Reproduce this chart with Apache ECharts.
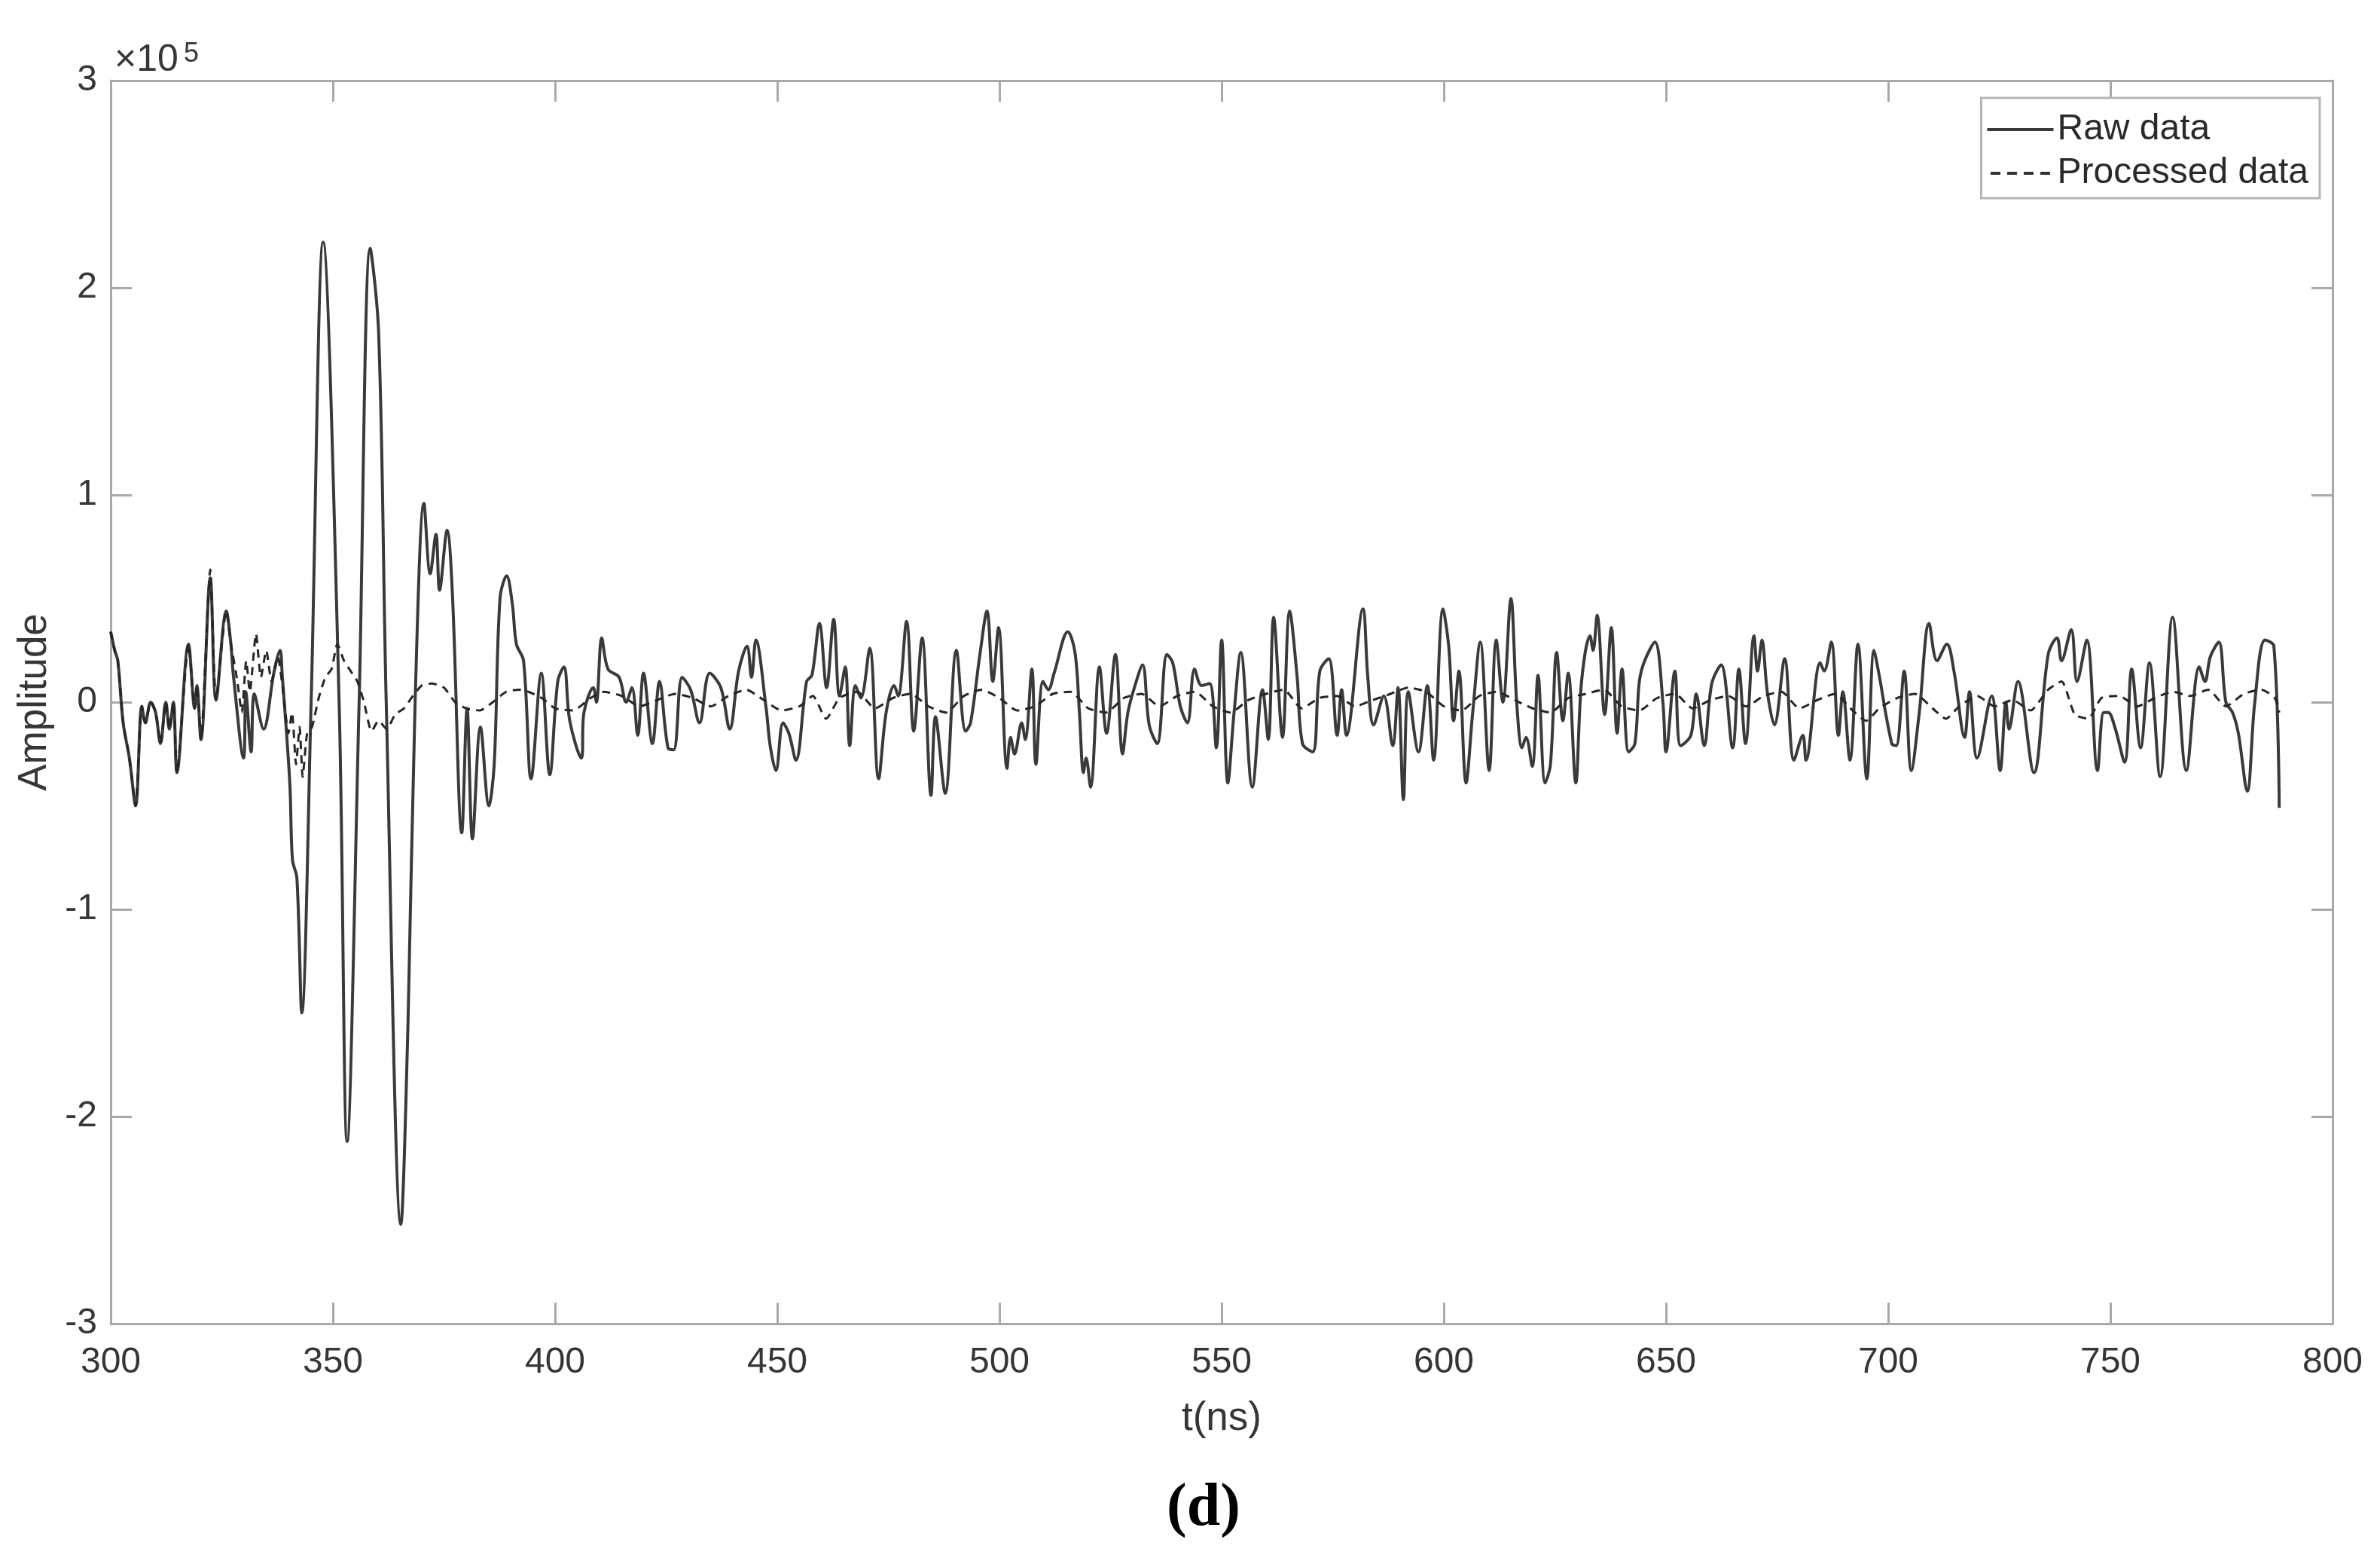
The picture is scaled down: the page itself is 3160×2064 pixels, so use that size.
<!DOCTYPE html>
<html><head><meta charset="utf-8">
<script src="https://cdn.jsdelivr.net/npm/echarts@6/dist/echarts.min.js"></script>
<style>html,body{margin:0;padding:0;background:#fff}#c{width:3160px;height:2064px}</style>
</head><body><div id="c"></div>
<script>
// t (ns), amplitude (x 10^5)
const rawSamples = [
[300,0.34],[300.9,0.25],[301.6,0.2],[302.8,-0.10],[304.2,-0.27],[305.6,-0.50],[307.0,-0.02],[307.8,-0.10],[309.0,0.0],[310.1,-0.05],
[311.2,-0.20],[312.4,0.0],[313.2,-0.13],[314.1,0.0],[314.9,-0.34],[317.5,0.28],[318.9,-0.03],[319.4,0.08],[320.3,-0.18],[322.4,0.60],
[323.7,0.01],[326.0,0.44],[327.0,0.29],[327.6,0.13],[329.9,-0.27],[330.4,0.05],[331.6,-0.24],[332.3,0.04],[334.4,-0.13],[336.7,0.14],
[338.1,0.25],[338.6,0.13],[340.3,-0.39],[340.9,-0.76],[341.9,-0.85],[343.0,-1.50],[345.1,0.0],[347.8,2.22],[351.4,0.0],[353.2,-2.12],
[355.9,0.0],[358.4,2.19],[360.3,1.78],[362.0,0.0],[365.3,-2.52],[366.9,-1.55],[368.5,0.0],[370.5,0.96],[371.9,0.62],[373.2,0.81],
[374.0,0.54],[375.7,0.83],[376.9,0.52],[379.0,-0.63],[380.2,-0.03],[381.4,-0.66],[383.2,-0.12],[385.1,-0.50],[386.3,-0.30],[387.6,0.50],
[389.1,0.61],[390.4,0.47],[391.3,0.28],[392.9,0.20],[394.6,-0.37],[396.9,0.14],[398.8,-0.35],[400.6,0.10],[402.0,0.17],[403.3,-0.09],
[405.9,-0.27],[406.5,-0.05],[408.6,0.07],[409.3,0.0],[410.5,0.31],[411.9,0.16],[414.4,0.12],[416.0,0.0],[417.3,0.07],[418.6,-0.16],
[419.9,0.14],[421.9,-0.20],[423.5,0.10],[425.4,-0.22],[426.7,-0.23],[428.6,0.12],[430.5,0.06],[432.5,-0.10],[434.8,0.14],[437.3,0.07],
[439.3,-0.13],[441.3,0.15],[443.2,0.27],[444.2,0.12],[445.2,0.30],[447.5,-0.03],[448.4,-0.21],[449.7,-0.33],[451.3,-0.10],[452.6,-0.15],
[454.2,-0.28],[456.6,0.10],[457.8,0.13],[459.5,0.38],[461.1,0.07],[462.7,0.40],[464.0,0.03],[465.3,0.17],[466.3,-0.21],[467.6,0.08],
[468.8,0.02],[470.8,0.26],[472.8,-0.37],[474.5,-0.05],[476.3,0.08],[477.2,0.03],[479.1,0.39],[480.7,-0.14],[482.6,0.31],[484.6,-0.45],
[485.6,-0.07],[487.8,-0.44],[490.3,0.25],[492.4,-0.14],[493.5,-0.10],[495.6,0.23],[497.2,0.44],[498.5,0.10],[499.8,0.36],[501.7,-0.32],
[502.5,-0.17],[503.4,-0.25],[505.0,-0.10],[505.8,-0.18],[507.3,0.16],[508.2,-0.30],[509.8,0.10],[511.0,0.06],[512.3,0.14],[515.4,0.34],
[517.0,0.24],[518.0,-0.05],[518.9,-0.34],[519.5,-0.27],[520.5,-0.41],[522.5,0.17],[524.1,-0.15],[526.1,0.23],[527.7,-0.25],[528.9,-0.05],
[530.5,0.08],[532.2,0.18],[533.7,-0.11],[535.5,-0.20],[537.7,0.23],[539.0,0.19],[540.7,-0.02],[542.3,-0.10],[543.9,0.16],[545.5,0.08],
[547.3,0.09],[548.8,-0.22],[550.0,0.30],[551.4,-0.39],[552.8,-0.05],[554.3,0.24],[556.9,-0.41],[559.2,0.06],[560.5,-0.18],[561.7,0.41],
[563.7,-0.17],[565.3,0.44],[567.0,0.12],[568.2,-0.20],[570.5,-0.24],[572.1,0.15],[574.1,0.21],[576.0,-0.16],[577.0,0.06],[578.1,-0.16],
[581.8,0.45],[582.9,0.12],[584.2,-0.11],[586.5,0.03],[588.5,-0.21],[589.7,0.07],[590.9,-0.47],[592.0,0.05],[594.3,-0.24],[596.3,0.08],
[597.7,-0.28],[599.8,0.45],[601.1,0.27],[602.2,-0.09],[603.4,0.15],[605.0,-0.39],[606.5,-0.05],[608.2,0.29],[610.2,-0.33],[611.8,0.30],
[613.3,0.0],[615.1,0.50],[616.4,0.0],[617.6,-0.22],[618.5,-0.17],[619.9,-0.31],[621.2,0.13],[622.8,-0.39],[624.0,-0.30],[625.4,0.24],
[626.8,-0.09],[628.0,0.14],[629.7,-0.39],[631.0,0.10],[632.9,0.32],[633.6,0.25],[634.5,0.42],[636.2,-0.06],[637.7,0.36],[639.0,-0.15],
[640.1,0.16],[641.6,-0.24],[643.0,-0.20],[644.0,0.10],[645.2,0.20],[647.5,0.29],[649.3,0.0],[650.0,-0.24],[652.0,0.15],[653.3,-0.21],
[655.6,-0.16],[656.8,0.04],[658.6,-0.21],[660.3,0.09],[662.4,0.18],[665.0,-0.22],[666.4,0.16],[667.9,-0.20],[669.8,0.32],[670.6,0.15],
[671.6,0.30],[672.8,0.05],[674.4,-0.11],[676.7,0.21],[678.8,-0.28],[680.8,-0.16],[681.5,-0.28],[684.7,0.19],[685.6,0.15],[687.2,0.29],
[688.8,-0.16],[689.8,0.05],[691.4,-0.28],[693.2,0.28],[695.2,-0.37],[696.8,0.25],[697.8,0.15],[700.8,-0.20],[701.8,-0.21],[703.6,0.15],
[705.2,-0.33],[707.0,-0.05],[709.2,0.38],[711.0,0.20],[713.2,0.28],[714.8,0.15],[717.2,-0.17],[718.3,0.05],[720.0,-0.27],[723.3,0.03],
[725.2,-0.33],[726.5,0.0],[727.2,-0.13],[729.2,0.10],[732.8,-0.34],[736.0,0.23],[738.0,0.31],[739.0,0.20],[741.2,0.35],[742.5,0.10],
[744.7,0.30],[747.1,-0.33],[748.5,-0.05],[749.5,-0.05],[751.0,-0.12],[753.2,-0.29],[754.8,0.16],[756.8,-0.22],[758.8,0.19],[761.2,-0.36],
[764.0,0.41],[767.1,-0.33],[770.0,0.17],[771.3,0.10],[772.5,0.22],[774.4,0.29],[776.0,0.0],[777.5,-0.05],[778.8,-0.15],[780.8,-0.43],
[782.5,0.0],[784.8,0.30],[786.8,0.27],[788.0,-0.51]
];
const processedSamples = [
[300,0.34],[300.9,0.25],[301.6,0.2],[302.8,-0.10],[304.2,-0.27],[305.6,-0.50],[307.0,-0.02],[307.8,-0.10],[309.0,0.0],[310.1,-0.05],
[311.2,-0.20],[312.4,0.0],[313.2,-0.13],[314.1,0.0],[314.9,-0.34],[317.5,0.28],[318.9,-0.03],[319.4,0.08],[320.3,-0.18],[322.4,0.64],
[323.7,0.01],[326.0,0.44],[327.0,0.29],[328.5,0.10],[329.5,-0.05],[330.5,0.20],[331.3,0.05],[332.7,0.33],[333.8,0.12],[335.0,0.25],
[336.2,0.10],[337.6,0.22],[338.8,0.05],[340.0,-0.15],[340.8,-0.05],[341.7,-0.30],[342.5,-0.12],[343.2,-0.36],[344.2,-0.15],[345.3,-0.12],
[346.8,0.02],[348.3,0.12],[349.7,0.16],[351.0,0.28],[352.5,0.20],[354.0,0.15],[355.5,0.10],[357.0,0.0],[358.7,-0.14],[360.3,-0.09],
[362.1,-0.13],[364.0,-0.06],[366.0,-0.03],[368.0,0.03],[370.0,0.08],[372.2,0.09],[375.0,0.07],[377.5,0.0],[380.0,-0.03],[383.0,-0.04],
[386.0,0.0],[389.0,0.05],[392.0,0.06],[394,0.05],[397,0.02],[400,-0.03],[404,-0.04],[408,0.02],[411,0.05],[415,0.03],
[419,-0.02],[423,0.01],[427,0.04],[431,0.02],[435,-0.02],[439,0.03],[443,0.06],[447,0.01],[451,-0.04],[455,-0.02],
[458,0.03],[461,-0.08],[464,0.02],[468,0.05],[472,-0.03],[476,0.02],[480,0.04],[484,-0.02],[488,-0.05],[492,0.03],
[496,0.06],[500,0.02],[504,-0.04],[508,-0.02],[512,0.04],[516,0.05],[520,-0.03],[524,-0.05],[528,0.02],[532,0.04],
[536,-0.02],[540,0.03],[544,0.05],[548,-0.02],[552,-0.05],[556,0.01],[560,0.04],[564,0.06],[568,-0.03],[572,0.02],
[576,0.03],[580,-0.02],[584,0.01],[588,0.04],[592,0.07],[596,0.05],[600,-0.02],[604,-0.04],[608,0.03],[612,0.05],
[616,0.01],[620,-0.03],[624,-0.05],[628,0.02],[632,0.04],[636,0.06],[640,-0.02],[644,-0.04],[648,0.02],[652,0.04],
[656,-0.03],[660,0.01],[664,0.03],[668,-0.02],[672,0.03],[676,0.05],[680,-0.03],[684,0.01],[688,0.04],[692,-0.04],
[695,-0.09],[698,-0.03],[702,0.02],[706,0.04],[710,-0.03],[713,-0.08],[716,-0.02],[720,0.03],[724,-0.02],[728,0.01],
[732,-0.04],[736,0.06],[739,0.10],[742,-0.06],[745,-0.08],[748,0.02],[752,0.03],[756,-0.02],[760,0.02],[764,0.05],
[768,0.03],[772,0.06],[776,-0.02],[780,0.04],[784,0.06],[787,0.02],[788,-0.05]
];
const seriesNames = ['Raw data', 'Processed data'];
const xLimits = [300, 800];
const xStep = 50;
const yLimits = [-3, 3];
const yStep = 1;
const xTitle = 't(ns)';
const yTitle = 'Amplitude';
const yExponent = '5';
const panelLabel = '(d)';

const chart = echarts.init(document.getElementById('c'), null, {renderer: 'canvas', width: 3160, height: 2064});
const axisColor = '#a9a9a9';
const textColor = '#363636';
const sans = '"Liberation Sans", Arial, sans-serif';

function frameAxis(pos, isX) {
  return {
    type: 'value', position: pos,
    min: isX ? xLimits[0] : yLimits[0], max: isX ? xLimits[1] : yLimits[1],
    interval: isX ? xStep : yStep,
    axisLine: {show: true, onZero: false, lineStyle: {color: axisColor, width: 3}},
    axisTick: {show: true, inside: true, length: 28, lineStyle: {color: axisColor, width: 3}},
    axisLabel: {show: false},
    splitLine: {show: false}
  };
}
const xBottom = frameAxis('bottom', true);
xBottom.axisLabel = {show: true, color: textColor, fontSize: 48, fontFamily: sans, margin: 28};
xBottom.name = xTitle; xBottom.nameLocation = 'middle'; xBottom.nameGap = 100;
xBottom.nameTextStyle = {color: textColor, fontSize: 53, fontFamily: sans};
const yLeft = frameAxis('left', false);
yLeft.axisLabel = {show: true, color: textColor, fontSize: 48, fontFamily: sans, margin: 18};
yLeft.name = yTitle; yLeft.nameLocation = 'middle'; yLeft.nameGap = 74; yLeft.nameRotate = 90;
yLeft.nameTextStyle = {color: textColor, fontSize: 53, fontFamily: sans};

const solidIcon = 'path://M0,0H88V4H0Z';
const dashIcon = 'path://M0,0H13V4H0Z M22,0H35V4H22Z M44,0H57V4H44Z M66,0H79V4H66Z';

chart.setOption({
  animation: false,
  backgroundColor: '#ffffff',
  grid: {left: 147, right: 63, top: 107, bottom: 307, containLabel: false},
  xAxis: [xBottom, frameAxis('top', true)],
  yAxis: [yLeft, frameAxis('right', false)],
  legend: {
    orient: 'vertical', right: 80, top: 130,
    backgroundColor: '#ffffff', borderColor: '#b5b5b5', borderWidth: 3,
    padding: [17, 15, 8, 8], itemGap: 8, itemWidth: 88, itemHeight: 4,
    textStyle: {color: '#2a2a2a', fontSize: 48, fontFamily: sans, lineHeight: 50},
    data: [
      {name: seriesNames[0], icon: solidIcon, itemStyle: {color: '#3a3a3a'}},
      {name: seriesNames[1], icon: dashIcon, itemStyle: {color: '#333333'}}
    ]
  },
  series: [
    {type: 'line', name: seriesNames[0], data: rawSamples, symbol: 'none', showSymbol: false, smooth: 0.35,
     lineStyle: {color: '#3a3a3a', width: 4}, itemStyle: {color: '#3a3a3a'}, z: 2},
    {type: 'line', name: seriesNames[1], data: processedSamples, symbol: 'none', showSymbol: false, smooth: 0.2,
     lineStyle: {color: '#262626', width: 3, type: [11, 8]}, itemStyle: {color: '#262626'}, z: 3}
  ],
  graphic: [
    {type: 'text', x: 152, y: 80, style: {text: '×10', fontSize: 50, fontFamily: sans, fill: textColor, align: 'left', verticalAlign: 'middle'}},
    {type: 'text', x: 244, y: 72, style: {text: yExponent, fontSize: 36, fontFamily: sans, fill: textColor, align: 'left', verticalAlign: 'middle'}},
    {type: 'text', x: 1598, y: 2003, style: {text: panelLabel, fontSize: 80, fontWeight: 'bold', fontFamily: '"Liberation Serif", "Times New Roman", serif', fill: '#000', align: 'center', verticalAlign: 'middle'}}
  ]
});
</script></body></html>
